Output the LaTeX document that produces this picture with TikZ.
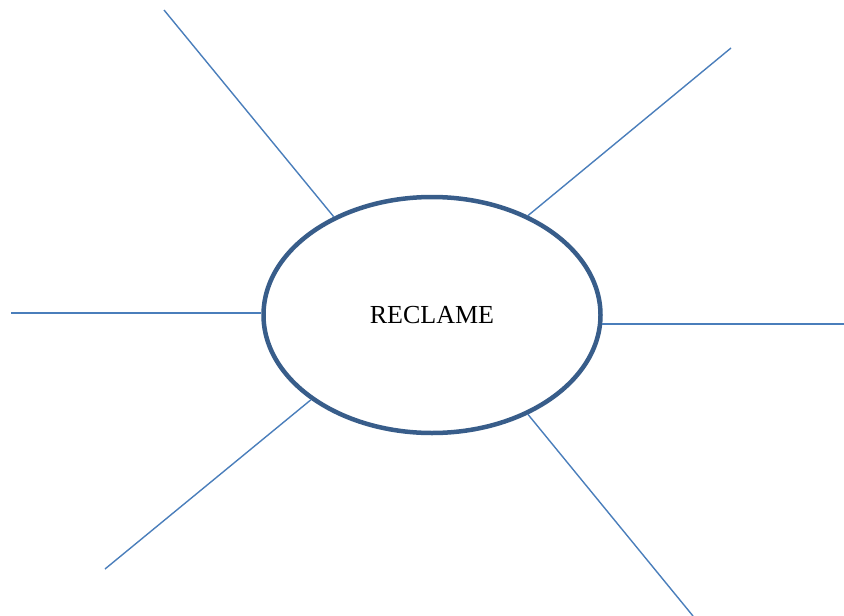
\documentclass[tikz,border=0pt]{standalone}
\usepackage{fontspec}
\setmainfont{Liberation Serif}
\usetikzlibrary{shapes.geometric}
\definecolor{rim}{HTML}{385D8A}
\definecolor{spoke}{HTML}{4A7EBB}
\begin{document}
\begin{tikzpicture}[x=1pt,y=-1pt,
  hub/.style={ellipse,draw=rim,line width=4.5pt,minimum width=337pt,minimum height=236pt,inner sep=0pt,font=\fontsize{26}{31}\selectfont},
  spk/.style={draw=spoke,line width=1.4pt}]
\useasboundingbox (0,0) rectangle (844,616);
\node[hub] (c) at (432,315) {RECLAME};
\coordinate (e1) at (164,10);
\coordinate (e2) at (731,48);
\coordinate (e3) at (11,313);
\coordinate (e4) at (844,324);
\coordinate (e5) at (105,569);
\coordinate (e6) at (693,616);
\draw[spk] (e1) -- (c.135.3);
\draw[spk] (e2) -- (c.46.8);
\draw[spk] (e3) -- (c.west |- e3);
\draw[spk] (e4) -- ([xshift=-1pt]c.east |- e4);
\draw[spk] (e5) -- (c.215.4);
\draw[spk] (e6) -- (c.314.1);
\end{tikzpicture}
\end{document}
